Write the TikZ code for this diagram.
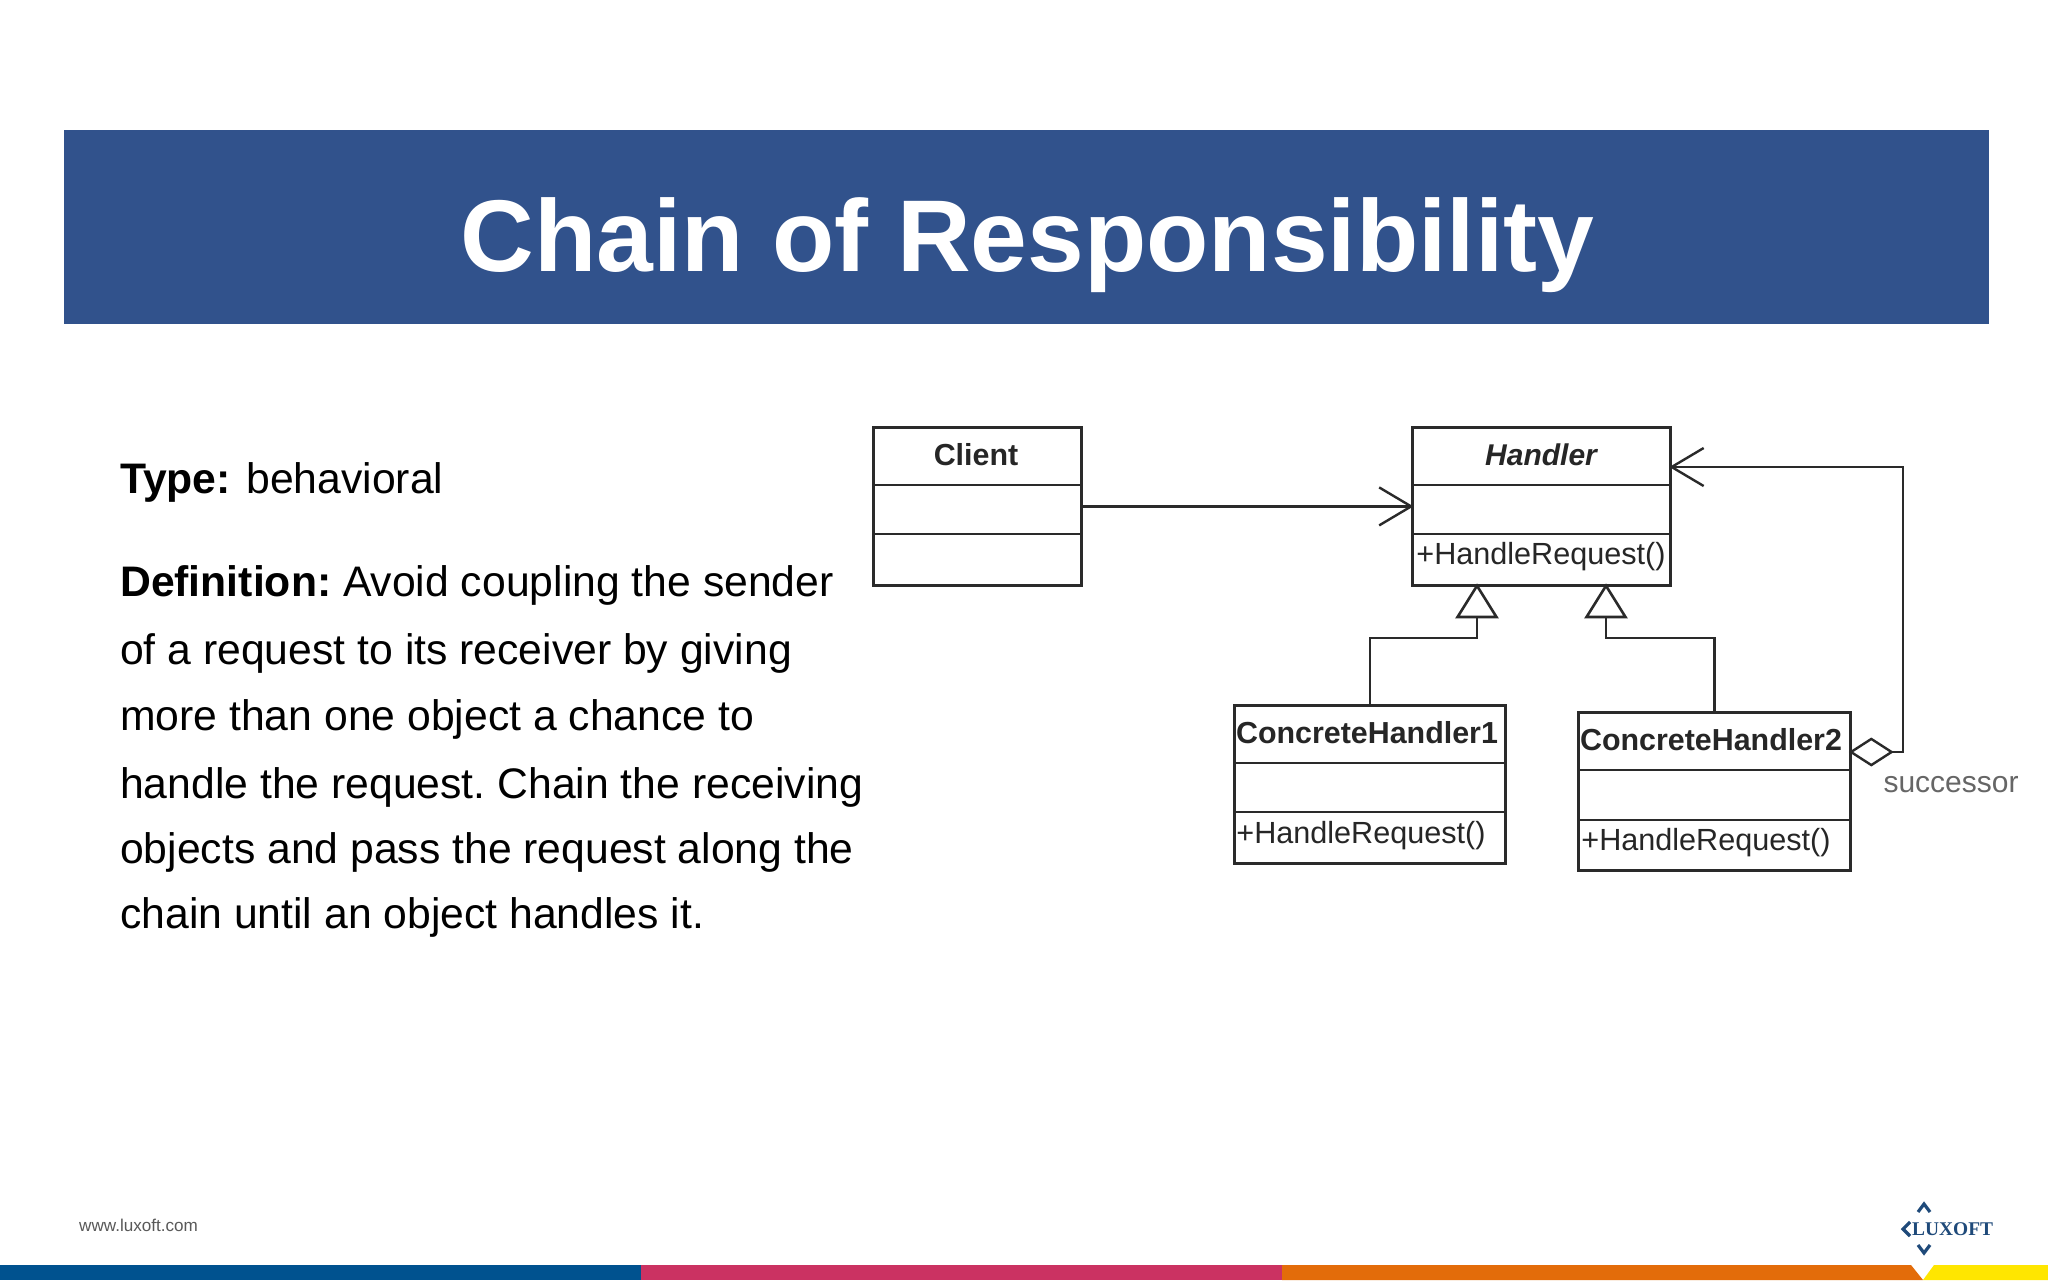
\documentclass[tikz,border=0pt]{standalone}
\usepackage{fontspec}
\setmainfont{Liberation Sans}
\newfontfamily\logofont{Liberation Serif}
\usetikzlibrary{arrows.meta,calc}
\definecolor{bannerblue}{HTML}{31528C}
\definecolor{barblue}{HTML}{00528F}
\definecolor{barpink}{HTML}{CB3262}
\definecolor{barorange}{HTML}{E36C0A}
\definecolor{baryellow}{HTML}{FFE600}
\definecolor{logoblue}{HTML}{1F4A7A}
\definecolor{umlline}{HTML}{2A2A2A}
\tikzset{
  umlbox/.style={draw=umlline,line width=2.8pt,anchor=north west,inner sep=0pt,fill=white},
  divider/.style={draw=umlline,line width=2.8pt},
  conn/.style={draw=umlline,line width=2.6pt},
  assoc/.style={conn,shorten >=-2.5pt,-{Straight Barb[length=32pt,width=38pt,line width=2.4pt]}},
  inherit/.style={conn,shorten >=-3.5pt,-{Triangle[open,fill=white,length=35pt,width=43pt,line width=2.6pt]}},
  aggr/.style={conn,shorten <=-3pt,shorten >=-2.5pt,{Diamond[open,fill=white,length=45pt,width=29pt,line width=2.4pt]}-{Straight Barb[length=32pt,width=38pt,line width=2.4pt]}},
  umltext/.style={text=black!85,inner sep=0pt,font=\fontsize{30.6}{36}\selectfont},
  umlhead/.style={text=black!85,inner sep=0pt,font=\fontsize{30.4}{36}\selectfont\bfseries},
  bodyline/.style={anchor=base west,inner sep=0pt,text=black,font=\fontsize{42.7}{50}\selectfont},
  chevron/.style={draw=logoblue,line width=3.2pt}
}
\frenchspacing
\begin{document}
\begin{tikzpicture}[x=1pt,y=-1pt]
\useasboundingbox (0,0) rectangle (2048,1280);
\fill[white] (0,0) rectangle (2048,1280);
% banner
\node[fill=bannerblue,anchor=north west,minimum width=1925pt,minimum height=194pt,inner sep=0pt] (banner) at (64,130) {};
\node[text=white,inner sep=0pt,anchor=base,font=\fontsize{102}{110}\selectfont\bfseries] (title) at (1027.5,271) {Chain of Responsibility};
% body text
\node[bodyline] (t1) at (120,493) {\textbf{Type:}\hspace{3.5pt} behavioral};
\node[bodyline] (t2) at (120,596) {\textbf{Definition:} Avoid coupling the sender};
\node[bodyline] (t3) at (120,664) {of a request to its receiver by giving};
\node[bodyline] (t4) at (120,730) {more than one object a chance to};
\node[bodyline] (t5) at (120,798) {handle the request. Chain the receiving};
\node[bodyline] (t6) at (120,863) {objects and pass the request along the};
\node[bodyline] (t7) at (120,928) {chain until an object handles it.};
% UML boxes
\node[umlbox,minimum width=208pt,minimum height=158pt] (client) at (872,426) {};
\node[umlbox,minimum width=258pt,minimum height=158pt] (handler) at (1411,426) {};
\node[umlbox,minimum width=271pt,minimum height=158pt] (ch1) at (1233,704) {};
\node[umlbox,minimum width=272pt,minimum height=158pt] (ch2) at (1577,711) {};
\draw[divider] (client.west |- 0,485) -- (client.east |- 0,485);
\draw[divider] (client.west |- 0,534) -- (client.east |- 0,534);
\draw[divider] (handler.west |- 0,485) -- (handler.east |- 0,485);
\draw[divider] (handler.west |- 0,534) -- (handler.east |- 0,534);
\draw[divider] (ch1.west |- 0,763) -- (ch1.east |- 0,763);
\draw[divider] (ch1.west |- 0,812) -- (ch1.east |- 0,812);
\draw[divider] (ch2.west |- 0,770) -- (ch2.east |- 0,770);
\draw[divider] (ch2.west |- 0,820) -- (ch2.east |- 0,820);
% UML texts
\node[umlhead] (lclient) at (976,455) {Client};
\node[umlhead,font=\fontsize{30}{36}\selectfont\bfseries\itshape] (lhandler) at (1541,455) {Handler};
\node[umltext] (mhandler) at (1541,557) {+HandleRequest()};
\node[umlhead] (lch1) at (1367,733) {ConcreteHandler1};
\node[umltext] (mch1) at (1361,836) {+HandleRequest()};
\node[umlhead] (lch2) at (1711,740) {ConcreteHandler2};
\node[umltext] (mch2) at (1706,843) {+HandleRequest()};
\node[umltext,font=\fontsize{30}{36}\selectfont,text=black!60] (lsucc) at (1951,785) {successor};
% connectors
\coordinate (bend1) at (1477,638);
\coordinate (bend2) at (1606,638);
\coordinate (corner) at (1903,752);
\draw[assoc] (client.east) -- (handler.west);
\draw[inherit] (ch1.north) |- (bend1) -- (bend1 |- handler.south);
\draw[inherit] (ch2.north) |- (bend2) -- (bend2 |- handler.south);
\draw[aggr] (ch2.east |- corner) -- (corner) -- (corner |- 0,467) -- (handler.east |- 0,467);
% footer
\fill[barblue] (0,1265) rectangle (641,1280);
\fill[barpink] (641,1265) rectangle (1282,1280);
\fill[barorange] (1282,1265) -- (1911,1265) -- (1923,1280) -- (1282,1280) -- cycle;
\fill[baryellow] (1934,1265) -- (2048,1265) -- (2048,1280) -- (1923,1280) -- cycle;
\node[anchor=base west,inner sep=0pt,text=black!65,font=\fontsize{17.1}{20}\selectfont] (www) at (79,1231) {www.luxoft.com};
% logo
\node[anchor=base west,inner sep=0pt,text=logoblue,font=\fontsize{19.4}{22}\selectfont\logofont\bfseries] (logo) at (1912,1235) {LUXOFT};
\draw[chevron] (1918,1212) -- (1924,1204) -- (1930,1212);
\draw[chevron] (1918,1245) -- (1924,1253) -- (1930,1245);
\draw[chevron] (1910,1222) -- (1903,1229) -- (1910,1236);
\end{tikzpicture}
\end{document}
